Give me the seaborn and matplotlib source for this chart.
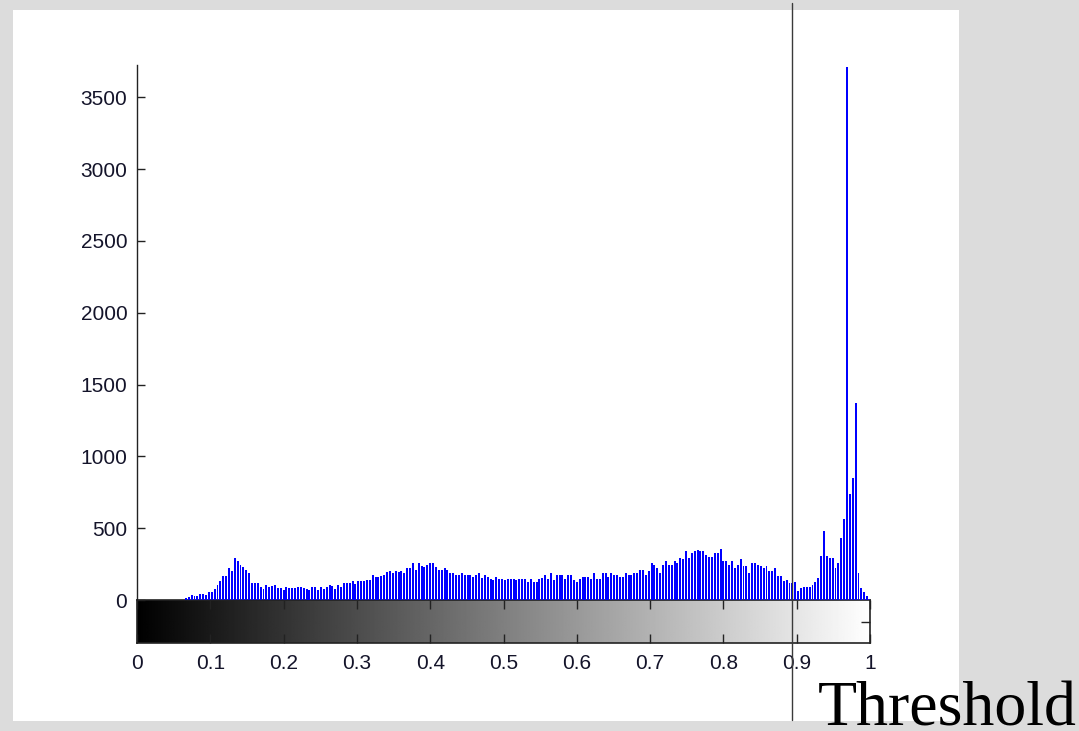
import numpy as np
import pandas as pd
import matplotlib
matplotlib.use("Agg")
import matplotlib.pyplot as plt
import seaborn as sns
from matplotlib.patches import Rectangle

# 256-level intensity histogram (counts per gray level)
counts = [0] * 17 + [
    12, 20, 32, 25, 30, 44, 44, 35, 58, 58, 80, 102, 130,                    # 17-29
    165, 165, 220, 200, 292, 269, 245, 230, 206, 186,                        # 30-39
    116, 116, 116, 93, 79, 102, 88, 95, 102, 81,                             # 40-49
    81, 70, 93, 81, 81, 81, 93, 88, 85, 79,                                  # 50-59
    70, 93, 93, 70, 93, 79, 93, 102, 95, 79,                                 # 60-69
    102, 93, 116, 116, 116, 130, 110, 130, 130, 135,                         # 70-79
    139, 139, 172, 162, 162, 170, 176, 195, 200, 186,                        # 80-89
    200, 195, 204, 190, 220, 220, 255, 209, 255, 240,                        # 90-99
    232, 246, 255, 255, 232, 209, 209, 220, 209, 186,                        # 100-109
    186, 172, 172, 186, 176, 172, 172, 162, 172, 186,                        # 110-119
    155, 172, 162, 148, 139, 162, 148, 148, 139, 148,                        # 120-129
    148, 148, 139, 148, 148, 148, 125, 148, 125, 125,                        # 130-139
    148, 150, 172, 148, 186, 139, 172, 172, 172, 148,                        # 140-149
    172, 172, 140, 125, 148, 162, 162, 162, 148, 186,                        # 150-159
    148, 148, 186, 186, 162, 186, 172, 172, 162, 162,                        # 160-169
    186, 172, 172, 186, 186, 209, 209, 172, 200, 255,                        # 170-179
    246, 220, 186, 246, 269, 246, 246, 269, 255, 292,                        # 180-189
    283, 339, 292, 329, 339, 348, 339, 339, 316, 302,                        # 190-199
    302, 325, 325, 353, 269, 269, 246, 269, 223, 246,                        # 200-209
    283, 237, 237, 190, 260, 260, 246, 237, 223, 237,                        # 210-219
    200, 200, 223, 167, 167, 130, 139, 116, 116, 128,                        # 220-229
    60, 81, 88, 93, 93, 104, 128, 151, 304, 480,                             # 230-239
    304, 292, 292, 220, 258, 434, 561, 3710, 740, 850,                       # 240-249
    1370, 186, 81, 58, 28, 10,                                               # 250-255
]
threshold = 0.8936
y_ticks = [0, 500, 1000, 1500, 2000, 2500, 3000, 3500]
x_ticks = [0, 0.1, 0.2, 0.3, 0.4, 0.5, 0.6, 0.7, 0.8, 0.9, 1.0]
x_tick_labels = ["0", "0.1", "0.2", "0.3", "0.4", "0.5", "0.6", "0.7", "0.8", "0.9", "1"]

n_bins = len(counts)
levels = np.arange(n_bins) / (n_bins - 1)
half = 0.5 / (n_bins - 1)
edges = list(np.append(levels - half, levels[-1] + half))
df = pd.DataFrame({"level": levels, "count": counts})

sns.set_style("ticks")
plt.rcParams["font.family"] = ["Liberation Sans", "DejaVu Sans"]

W, H = 1079, 731
fig = plt.figure(figsize=(W / 100, H / 100), dpi=100, facecolor="#dcdcdc")
fig.patches.append(Rectangle((13 / W, 10 / H), 946 / W, 711 / H, transform=fig.transFigure,
                             facecolor="white", edgecolor="none", zorder=0))

# histogram axes
ax = fig.add_axes([137 / W, 1 - 600 / H, 733 / W, 535 / H])
ax.set_facecolor("none")
ax.set_zorder(3)
sns.histplot(data=df, x="level", weights="count", bins=edges, shrink=0.68, color="#0000ff",
             edgecolor="none", linewidth=0, alpha=1, ax=ax)
ax.set_xlim(0, 1)
ax.set_ylim(0, 3725)
ax.set_xticks([])
ax.set_yticks(y_ticks)
ax.set_xlabel("")
ax.set_ylabel("")
for side in ["top", "right", "bottom"]:
    ax.spines[side].set_visible(False)
ax.spines["left"].set_color("#222222")
ax.spines["left"].set_linewidth(1)
ax.tick_params(axis="y", direction="in", length=5.5, width=1, pad=7,
               labelsize=15, labelcolor="#14142a", color="#222222")

# threshold line runs past the axes, top to bottom of the panel
ax.axvline(threshold, ymin=(600 - 720) / 535, ymax=(600 - 3) / 535, clip_on=False,
           color="#3a3a3a", linewidth=1, zorder=10)

# gray colour bar under the histogram
cax = fig.add_axes([137 / W, 1 - 643 / H, 733 / W, 43 / H])
cax.set_zorder(2)
gradient = np.linspace(0, 1, 512).reshape(1, -1)
cax.imshow(gradient, cmap="gray", vmin=0, vmax=1, aspect="auto", extent=(0, 1, 0, 1))
cax.set_xlim(0, 1)
cax.set_ylim(0, 1)
cax.set_xticks(x_ticks)
cax.set_xticklabels(x_tick_labels)
cax.tick_params(axis="x", direction="in", top=True, bottom=True, length=6.5, width=1,
                pad=8, labelsize=15, labelcolor="#14142a", color="#222222")
cax.set_yticks([0.5])
cax.yaxis.tick_right()
cax.tick_params(axis="y", direction="in", length=6.5, width=1, labelright=False,
                color="#222222")
for s in cax.spines.values():
    s.set_color("#222222")
    s.set_linewidth(1.2)

fig.text(818 / W, 6 / H, "Threshold", family="Liberation Serif", fontsize=46,
         ha="left", va="baseline", color="black")

fig.savefig("out.png", dpi=100, facecolor=fig.get_facecolor())
